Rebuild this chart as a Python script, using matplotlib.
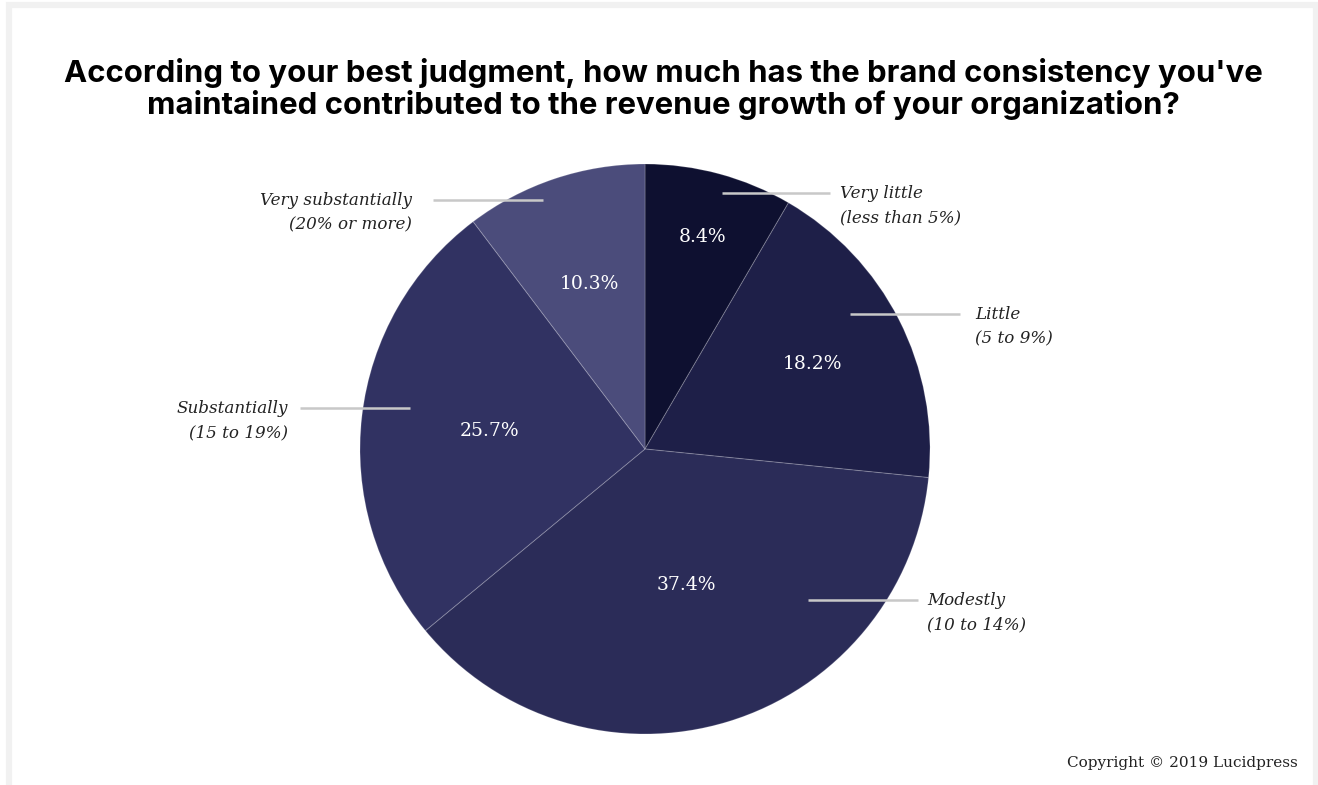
import numpy as np
import matplotlib.pyplot as plt
from matplotlib.patches import Rectangle

# survey answers, clockwise from 12 o'clock
answers = ['Very little\n(less than 5%)', 'Little\n(5 to 9%)', 'Modestly\n(10 to 14%)',
           'Substantially\n(15 to 19%)', 'Very substantially\n(20% or more)']
shares = [8.4, 18.2, 37.4, 25.7, 10.3]
colors = ['#0e1030', '#1e1f48', '#2b2c58', '#313262', '#4b4c7b']

W, H = 1318, 785
fig = plt.figure(figsize=(W / 100, H / 100), dpi=100)
fig.patch.set_facecolor('white')

# light grey frame round the card
fig.add_artist(Rectangle((9 / W, -0.05), (1316 - 9) / W, (779 + 40) / H,
                         transform=fig.transFigure, fill=False,
                         edgecolor='#f1f1f1', linewidth=4.5))

cx, cy, R = 645, 449, 285
ax = fig.add_axes([(cx - R) / W, (H - cy - R) / H, 2 * R / W, 2 * R / H])
wedges, _ = ax.pie(shares, colors=colors, startangle=90, counterclock=False,
                   radius=1, wedgeprops=dict(edgecolor=(1, 1, 1, 0.18), linewidth=0.8))
ax.set_xlim(-1, 1)
ax.set_ylim(-1, 1)
ax.set_aspect('equal')
ax.axis('off')

serif = 'DejaVu Serif'

# percentage labels, at the middle angle of each wedge
pct_r = [0.77, 0.66, 0.50, 0.55, 0.61]
for w, v, r in zip(wedges, shares, pct_r):
    mid = np.deg2rad((w.theta1 + w.theta2) / 2)
    ax.text(r * np.cos(mid), r * np.sin(mid), f'{v}%', color='white',
            ha='center', va='center', fontsize=13.5, family=serif)

# leader lines (pixel layout) and the answer text
def px(x, y):
    return (x - cx) / R, (cy - y) / R

leaders = [(722, 830, 193, 840, 'left'),
           (850, 960, 314, 975, 'left'),
           (808, 918, 600, 927, 'left'),
           (410, 300, 408, 288, 'right'),
           (543, 433, 200, 412, 'right')]
for (x0, x1, y, tx, ha), label in zip(leaders, answers):
    a = px(x0, y)
    b = px(x1, y)
    ax.plot([a[0], b[0]], [a[1], b[1]], color='#c8c8c8', lw=1.8,
            solid_capstyle='butt', clip_on=False)
    t = px(tx, y + 13)
    ax.text(t[0], t[1], label, ha=ha, va='center', fontsize=12.1,
            style='italic', family=serif, color='#222222', clip_on=False,
            linespacing=1.55)

fig.text(663 / W, 1 - 89 / H,
         "According to your best judgment, how much has the brand consistency you've\n"
         "maintained contributed to the revenue growth of your organization?",
         ha='center', va='center', fontsize=22.4, fontweight='bold',
         family='Inter', color='black', linespacing=1.1)

fig.text(1298 / W, 1 - 763 / H, 'Copyright \u00a9 2019 Lucidpress', ha='right',
         va='center', fontsize=11, family=serif, color='#222222')

fig.savefig('out.png', dpi=100, facecolor='white')
